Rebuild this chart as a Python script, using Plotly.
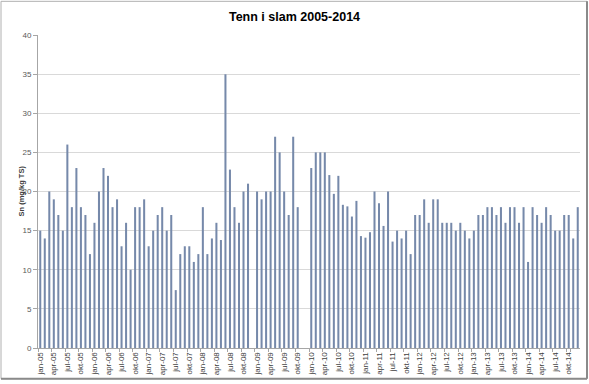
import plotly.graph_objects as go

months = ["jan", "feb", "mar", "apr", "mai", "jun", "jul", "aug", "sep", "okt", "nov", "des"]
years = ["05", "06", "07", "08", "09", "10", "11", "12", "13", "14"]
categories = [f"{m}-{y}" for y in years for m in months]

v2005 = [15, 14, 20, 19, 17, 15, 26, 18, 23, 18, 17, 12]
v2006 = [16, 20, 23, 22, 18, 19, 13, 16, 10, 18, 18, 19]
v2007 = [13, 15, 17, 18, 15, 17, 7.4, 12, 13, 13, 11, 12]
v2008 = [18, 12, 14, 16, 13.8, 35, 22.8, 18, 16, 20, 21, None]
v2009 = [20, 19, 20, 20, 27, 25, 20, 17, 27, 18, None, None]
v2010 = [23, 25, 25, 25, 22.1, 19.7, 22, 18.3, 18.1, 16.8, 18.8, 14.3]
v2011 = [14.1, 14.8, 20, 18.5, 15.6, 20, 13.6, 15, 14, 15, 12, 17]
v2012 = [17, 19, 16, 19, 19, 16, 16, 16, 15, 16, 15, 14]
v2013 = [15, 17, 17, 18, 18, 17, 18, 16, 18, 18, 16, 18]
v2014 = [11, 18, 17, 16, 18, 17, 15, 15, 17, 17, 14, 18]
values = v2005 + v2006 + v2007 + v2008 + v2009 + v2010 + v2011 + v2012 + v2013 + v2014

tick_labels = categories[::3]

W, H = 589, 384
L, R, T, B = 38, 9, 35, 33

fig = go.Figure()
fig.add_trace(go.Bar(
    x=categories, y=values,
    marker=dict(color="#7689aa", line=dict(width=0)),
))

pw = W - L - R
ph = H - T - B
def px_x(p):
    return (p - L) / pw
def px_y(p):
    return (H - B - p) / ph

fig.update_layout(
    width=W, height=H,
    margin=dict(l=L, r=R, t=T, b=B),
    paper_bgcolor="white", plot_bgcolor="white",
    bargap=0.55,
    showlegend=False,
    font=dict(family="Liberation Sans, Arial, sans-serif", color="#404040"),
    title=dict(text="<b>Tenn i slam 2005-2014</b>", x=0.5, xanchor="center",
               y=1 - 17 / H, yanchor="middle",
               font=dict(size=12.5, color="#000000", family="Liberation Sans, Arial, sans-serif")),
    xaxis=dict(
        type="category",
        tickmode="array", tickvals=tick_labels, ticktext=tick_labels,
        tickangle=-90, tickfont=dict(size=8, color="#404040"),
        showgrid=False, showline=True, linecolor="#a6a6a6", linewidth=1,
        ticks="outside", ticklen=3, tickcolor="#a6a6a6", tickson="boundaries",
        range=[-0.5, len(categories) - 0.5],
    ),
    yaxis=dict(
        range=[0, 40], tickmode="linear", tick0=0, dtick=5,
        tickfont=dict(size=8, color="#595959"),
        showgrid=True, gridcolor="#d9d9d9", gridwidth=1,
        showline=True, linecolor="#a6a6a6", linewidth=1,
        ticks="outside", ticklen=4, tickcolor="#a6a6a6",
        zeroline=False,
    ),
    annotations=[dict(
        text="<b>Sn (mg/kg TS)</b>", textangle=-90,
        xref="paper", yref="paper", x=px_x(21), y=0.5,
        xanchor="center", yanchor="middle", showarrow=False,
        font=dict(size=7.5, color="#404040"),
    )],
    shapes=[
        dict(type="rect", xref="paper", yref="paper",
             x0=px_x(1), x1=px_x(587), y0=px_y(382), y1=px_y(1),
             line=dict(color="#b0b0b0", width=1), fillcolor="rgba(0,0,0,0)",
             layer="below"),
        dict(type="line", xref="paper", yref="paper",
             x0=px_x(587), x1=px_x(587), y0=px_y(382), y1=px_y(1),
             line=dict(color="#8a8a8a", width=2)),
        dict(type="line", xref="paper", yref="paper",
             x0=px_x(1), x1=px_x(587), y0=px_y(382), y1=px_y(382),
             line=dict(color="#8a8a8a", width=2)),
    ],
)

fig.write_html(
    "out.html",
    config={"displayModeBar": False},
    post_script="document.body.style.margin='0';document.body.style.overflow='hidden';",
)
